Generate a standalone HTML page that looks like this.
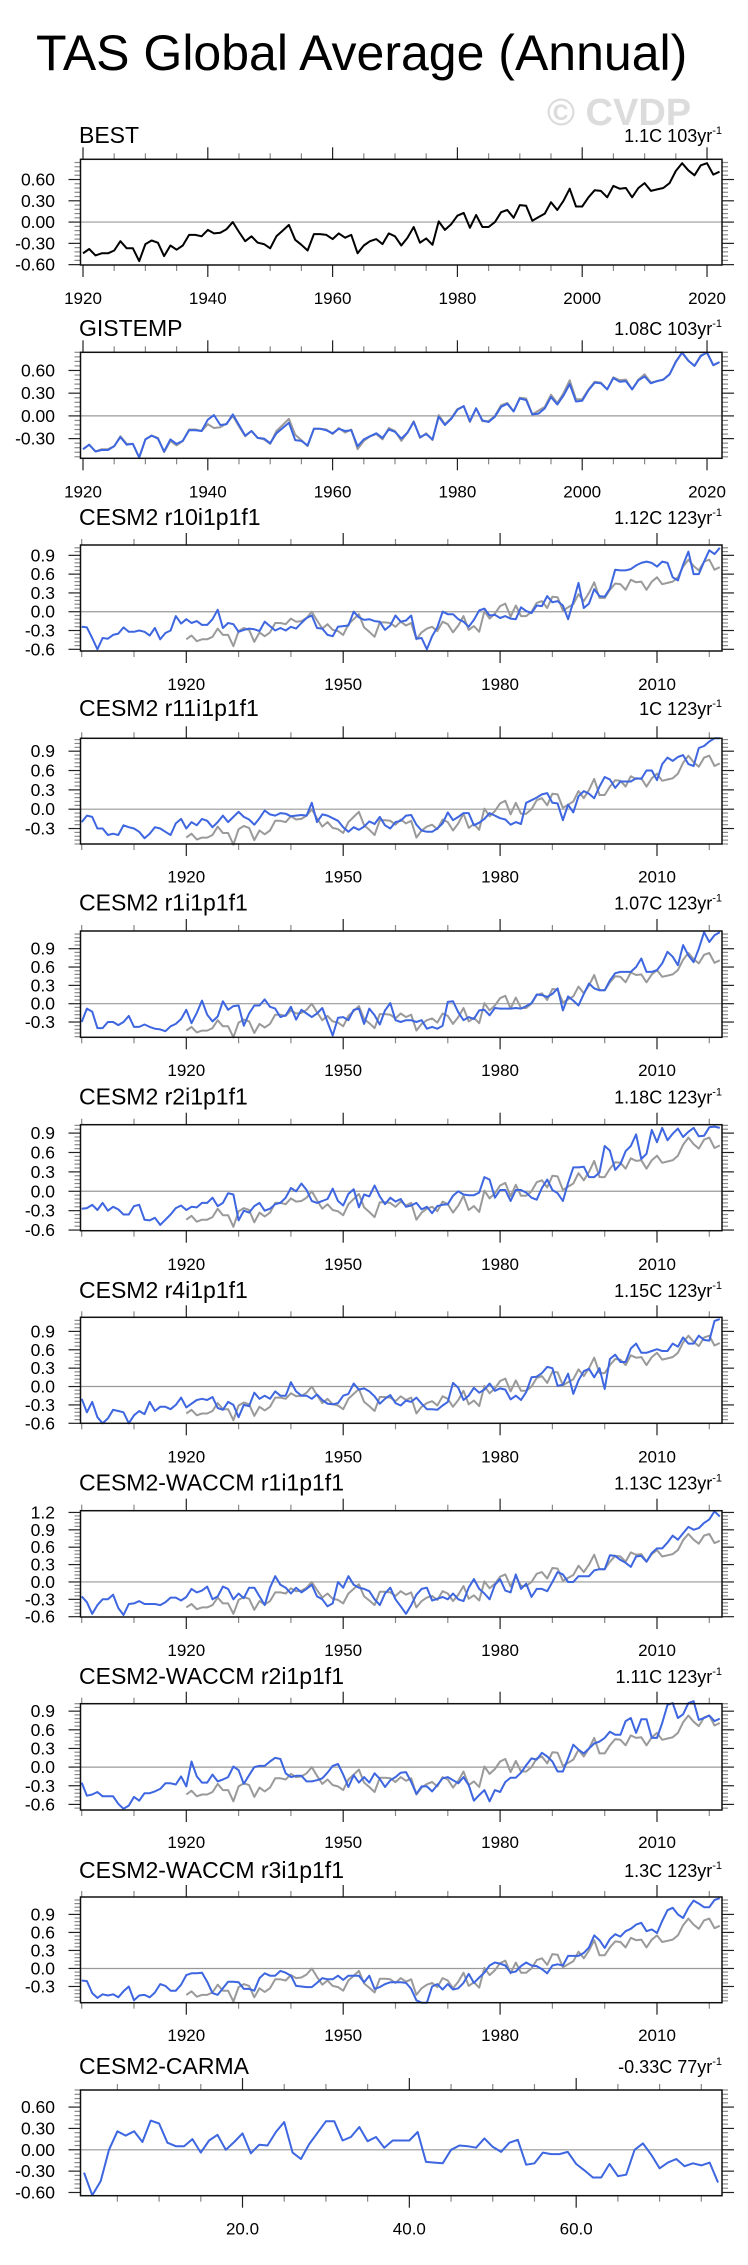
<!DOCTYPE html>
<html><head><meta charset="utf-8"><title>TAS Global Average (Annual)</title>
<style>
html,body{margin:0;padding:0;background:#fff;}
svg{display:block;font-family:"Liberation Sans",Arial,sans-serif;}
</style></head>
<body>
<svg id="chart" width="748" height="2265" viewBox="0 0 748 2265" xmlns="http://www.w3.org/2000/svg">
<rect x="0" y="0" width="748" height="2265" fill="#fff"/>
<text x="36" y="70" font-size="50" fill="#000">TAS Global Average (Annual)</text>
<text x="547" y="125" font-size="38" font-weight="bold" fill="#dcdcdc">© CVDP</text>
</svg>
<script>
// ---------- data ----------
const bestValues = [
-0.44,-0.38,-0.47,-0.44,-0.44,-0.40,-0.27,-0.37,-0.37,-0.55,
-0.31,-0.26,-0.29,-0.48,-0.33,-0.39,-0.33,-0.18,-0.18,-0.20,
-0.11,-0.16,-0.15,-0.10,0.00,-0.14,-0.27,-0.20,-0.29,-0.31,
-0.37,-0.20,-0.12,-0.04,-0.25,-0.32,-0.40,-0.17,-0.17,-0.18,
-0.24,-0.16,-0.22,-0.18,-0.44,-0.33,-0.27,-0.24,-0.31,-0.16,
-0.20,-0.33,-0.22,-0.07,-0.29,-0.23,-0.32,0.01,-0.11,-0.03,
0.09,0.13,-0.08,0.10,-0.07,-0.07,0.00,0.14,0.17,0.06,
0.24,0.23,0.02,0.07,0.12,0.28,0.17,0.30,0.47,0.22,
0.22,0.35,0.45,0.44,0.35,0.51,0.47,0.48,0.35,0.48,
0.55,0.44,0.46,0.48,0.55,0.72,0.83,0.73,0.66,0.80,0.83,0.67,0.71];
const gistempValues = [
-0.44,-0.38,-0.47,-0.45,-0.45,-0.40,-0.28,-0.38,-0.37,-0.55,
-0.31,-0.26,-0.30,-0.47,-0.31,-0.37,-0.33,-0.19,-0.19,-0.20,
-0.05,0.01,-0.12,-0.11,0.02,-0.12,-0.26,-0.20,-0.29,-0.30,
-0.36,-0.23,-0.16,-0.09,-0.32,-0.33,-0.39,-0.17,-0.17,-0.19,
-0.23,-0.17,-0.20,-0.19,-0.40,-0.31,-0.27,-0.23,-0.29,-0.18,
-0.21,-0.30,-0.22,-0.08,-0.28,-0.24,-0.31,-0.01,-0.12,-0.04,
0.08,0.13,-0.07,0.10,-0.06,-0.08,-0.01,0.12,0.16,0.06,
0.23,0.21,0.02,0.03,0.10,0.25,0.15,0.27,0.42,0.19,
0.20,0.34,0.44,0.43,0.35,0.50,0.45,0.46,0.35,0.47,
0.52,0.43,0.46,0.48,0.55,0.71,0.84,0.73,0.66,0.79,0.84,0.67,0.71];
const cesm2R10 = [
-0.24,-0.25,-0.42,-0.60,-0.42,-0.43,-0.37,-0.35,-0.25,-0.32,
-0.32,-0.30,-0.32,-0.38,-0.26,-0.44,-0.34,-0.30,-0.07,-0.19,
-0.12,-0.18,-0.15,-0.21,-0.21,-0.12,0.03,-0.26,-0.18,-0.20,
-0.32,-0.29,-0.27,-0.28,-0.31,-0.16,-0.23,-0.30,-0.26,-0.30,
-0.24,-0.27,-0.18,-0.10,-0.06,-0.26,-0.27,-0.37,-0.39,-0.24,
-0.23,-0.22,0.00,-0.09,-0.13,-0.12,-0.15,-0.16,-0.29,-0.22,
-0.06,-0.16,-0.14,-0.06,-0.43,-0.42,-0.60,-0.39,-0.25,0.00,
-0.04,-0.04,-0.12,-0.16,-0.24,-0.13,0.02,0.05,-0.06,-0.05,
-0.10,-0.07,-0.11,-0.12,0.07,0.01,-0.02,0.10,0.09,0.25,
0.15,0.17,0.10,-0.12,0.16,0.46,0.06,0.13,0.36,0.25,
0.24,0.37,0.67,0.66,0.66,0.68,0.74,0.78,0.80,0.78,
0.72,0.80,0.78,0.55,0.50,0.75,0.96,0.60,0.60,0.80,0.98,0.92,1.02];
const cesm2R11 = [
-0.20,-0.10,-0.12,-0.30,-0.30,-0.40,-0.38,-0.40,-0.25,-0.28,
-0.30,-0.35,-0.45,-0.38,-0.28,-0.30,-0.35,-0.40,-0.22,-0.15,
-0.30,-0.20,-0.25,-0.15,-0.18,-0.28,-0.20,-0.10,-0.20,-0.12,
-0.04,-0.12,-0.16,-0.24,-0.14,-0.02,-0.08,-0.10,-0.06,-0.07,
-0.11,-0.10,-0.09,-0.10,0.10,-0.20,-0.08,-0.10,-0.14,-0.18,
-0.28,-0.35,-0.28,-0.32,-0.27,-0.19,-0.23,-0.12,-0.25,-0.30,
-0.20,-0.18,-0.10,-0.09,-0.24,-0.33,-0.35,-0.35,-0.30,-0.22,
-0.05,-0.17,-0.12,-0.06,-0.06,-0.25,-0.21,-0.15,-0.06,-0.10,
-0.14,-0.16,-0.24,-0.20,-0.23,0.10,0.14,0.18,0.23,0.25,
0.10,0.09,-0.17,0.07,-0.05,0.20,0.28,0.24,0.17,0.35,
0.50,0.46,0.33,0.43,0.43,0.43,0.48,0.47,0.60,0.60,
0.45,0.70,0.80,0.75,0.81,0.84,0.70,0.67,0.95,0.98,1.05,1.10,1.10];
const cesm2R1 = [
-0.30,-0.08,-0.13,-0.40,-0.40,-0.30,-0.30,-0.35,-0.30,-0.20,
-0.38,-0.38,-0.34,-0.38,-0.41,-0.42,-0.45,-0.37,-0.33,-0.25,
-0.10,-0.32,-0.15,0.05,-0.18,-0.29,-0.21,0.04,-0.10,-0.04,
-0.03,-0.36,-0.16,-0.03,-0.03,0.07,-0.05,-0.08,-0.22,-0.19,
-0.05,-0.26,-0.10,-0.16,-0.22,-0.16,-0.07,-0.30,-0.52,-0.23,
-0.22,-0.27,-0.10,-0.08,-0.33,-0.08,-0.19,-0.34,-0.11,0.01,
-0.27,-0.30,-0.27,-0.27,-0.30,-0.27,-0.41,-0.38,-0.41,-0.36,
0.03,0.04,-0.14,-0.27,-0.22,-0.25,-0.11,-0.10,-0.19,-0.07,
-0.08,-0.08,-0.08,-0.07,-0.08,-0.04,0.01,0.15,0.14,0.11,
0.16,0.25,-0.11,0.12,0.05,-0.03,0.16,0.33,0.25,0.22,
0.22,0.38,0.50,0.52,0.52,0.52,0.60,0.74,0.52,0.52,
0.55,0.66,0.85,0.77,0.63,0.96,0.79,0.68,0.90,1.17,1.01,1.12,1.17];
const cesm2R2 = [
-0.27,-0.26,-0.21,-0.29,-0.18,-0.30,-0.24,-0.28,-0.36,-0.36,
-0.23,-0.21,-0.44,-0.45,-0.41,-0.52,-0.44,-0.36,-0.26,-0.22,
-0.29,-0.24,-0.25,-0.18,-0.18,-0.10,-0.23,-0.18,-0.03,-0.05,
-0.45,-0.30,-0.33,-0.23,-0.18,-0.30,-0.27,-0.20,-0.18,-0.10,
0.05,0.00,0.12,0.02,-0.15,-0.18,-0.15,-0.12,0.04,-0.15,
-0.22,-0.04,0.03,-0.25,-0.05,-0.08,0.09,-0.08,-0.20,-0.10,
-0.16,-0.12,-0.24,-0.22,-0.18,-0.28,-0.24,-0.34,-0.23,-0.21,
-0.20,-0.07,0.00,-0.05,-0.06,-0.06,-0.02,0.22,0.18,-0.10,
0.02,0.02,-0.15,0.02,0.02,-0.02,-0.10,-0.13,0.05,0.18,
0.02,-0.03,-0.15,0.13,0.37,0.37,0.38,0.22,0.22,0.29,
0.70,0.63,0.33,0.42,0.62,0.70,0.88,0.50,0.58,0.95,
0.76,0.98,0.79,0.89,0.97,0.84,0.92,0.98,0.85,0.86,0.99,1.00,0.98];
const cesm2R4 = [
-0.20,-0.42,-0.25,-0.50,-0.60,-0.52,-0.38,-0.40,-0.42,-0.60,
-0.47,-0.40,-0.45,-0.25,-0.40,-0.33,-0.33,-0.37,-0.30,-0.18,
-0.34,-0.28,-0.22,-0.20,-0.22,-0.17,-0.35,-0.38,-0.25,-0.30,
-0.50,-0.30,-0.32,-0.10,-0.20,-0.15,-0.20,-0.08,-0.15,-0.15,
0.07,-0.08,-0.15,-0.15,-0.20,-0.13,-0.22,-0.28,-0.29,-0.27,
-0.15,-0.12,0.05,-0.05,-0.03,-0.08,-0.16,-0.28,-0.20,-0.14,
-0.27,-0.31,-0.23,-0.25,-0.18,-0.28,-0.37,-0.37,-0.38,-0.31,
-0.25,0.06,-0.02,-0.22,-0.15,-0.02,-0.10,-0.05,0.05,-0.07,
-0.03,-0.05,-0.21,-0.15,-0.22,-0.09,0.15,0.16,0.22,0.32,
0.30,0.01,0.03,0.21,-0.12,0.10,0.25,0.29,0.15,0.30,
-0.04,0.45,0.52,0.40,0.40,0.62,0.70,0.55,0.55,0.58,
0.61,0.58,0.58,0.70,0.65,0.80,0.70,0.70,0.83,0.76,0.75,1.07,1.10];
const waccmR1 = [
-0.25,-0.35,-0.55,-0.40,-0.30,-0.30,-0.22,-0.45,-0.57,-0.38,
-0.37,-0.33,-0.38,-0.38,-0.38,-0.40,-0.35,-0.27,-0.27,-0.32,
-0.26,-0.12,-0.18,-0.15,-0.08,-0.30,-0.25,-0.08,-0.12,-0.30,
-0.20,-0.28,-0.10,-0.10,-0.25,-0.40,-0.10,0.10,-0.05,-0.10,
-0.20,-0.10,-0.18,-0.12,-0.05,-0.25,-0.30,-0.42,-0.37,0.00,
-0.10,0.10,-0.05,-0.10,-0.12,-0.16,-0.30,-0.40,-0.20,-0.10,
-0.30,-0.42,-0.55,-0.40,-0.22,-0.12,-0.10,-0.32,-0.29,-0.26,
-0.30,-0.20,-0.30,-0.33,-0.10,0.05,-0.12,-0.20,-0.30,-0.05,
0.05,-0.15,-0.18,0.13,-0.12,-0.03,-0.26,-0.12,-0.12,-0.16,
0.00,0.17,0.13,0.00,0.00,0.10,0.10,0.10,0.20,0.22,
0.22,0.46,0.45,0.38,0.33,0.26,0.44,0.45,0.35,0.50,
0.58,0.58,0.68,0.80,0.73,0.84,0.95,0.90,0.93,1.02,1.08,1.22,1.13];
const waccmR2 = [
-0.25,-0.46,-0.44,-0.40,-0.47,-0.47,-0.47,-0.59,-0.67,-0.62,
-0.48,-0.54,-0.42,-0.42,-0.39,-0.35,-0.26,-0.26,-0.28,-0.15,
-0.31,0.09,-0.15,-0.25,-0.25,-0.12,-0.23,-0.20,-0.16,0.01,
-0.05,-0.27,-0.13,0.00,0.02,0.02,0.09,0.15,0.13,-0.10,
-0.16,-0.14,-0.14,-0.23,-0.23,-0.21,-0.18,-0.09,0.02,0.05,
-0.12,-0.32,-0.13,-0.25,-0.16,-0.25,-0.10,-0.19,-0.32,-0.21,
-0.16,-0.09,-0.08,-0.24,-0.43,-0.31,-0.31,-0.39,-0.29,-0.18,
-0.16,-0.21,-0.26,-0.16,-0.29,-0.54,-0.45,-0.37,-0.55,-0.37,
-0.40,-0.24,-0.17,-0.17,-0.09,0.03,0.14,0.12,0.23,0.17,
0.09,-0.07,-0.07,0.14,0.36,0.28,0.22,0.30,0.38,0.41,
0.47,0.57,0.52,0.52,0.74,0.79,0.55,0.77,0.77,0.47,
0.47,0.71,1.00,1.03,0.79,0.85,1.03,1.06,0.76,0.79,0.83,0.74,0.78];
const waccmR3 = [
-0.20,-0.21,-0.41,-0.49,-0.43,-0.45,-0.43,-0.48,-0.38,-0.30,
-0.53,-0.45,-0.44,-0.48,-0.40,-0.26,-0.29,-0.37,-0.37,-0.27,
-0.11,-0.08,-0.08,-0.07,-0.22,-0.41,-0.44,-0.33,-0.22,-0.22,
-0.23,-0.34,-0.34,-0.37,-0.16,-0.08,-0.12,-0.12,-0.04,-0.07,
-0.12,-0.29,-0.30,-0.31,-0.31,-0.24,-0.16,-0.18,-0.18,-0.12,
-0.19,-0.12,-0.12,-0.12,-0.23,-0.12,-0.34,-0.31,-0.26,-0.23,
-0.23,-0.23,-0.24,-0.34,-0.53,-0.57,-0.57,-0.30,-0.26,-0.35,
-0.26,-0.35,-0.33,-0.24,-0.09,-0.24,-0.15,-0.07,0.05,0.10,
0.08,0.05,-0.07,-0.05,0.04,0.10,0.05,0.04,-0.01,-0.08,
0.05,0.07,0.05,0.21,0.21,0.21,0.26,0.35,0.55,0.47,
0.34,0.49,0.57,0.53,0.62,0.66,0.73,0.76,0.62,0.65,
0.59,0.79,0.97,1.01,0.90,0.84,1.01,1.13,1.08,1.02,1.02,1.14,1.17];
const carmaValues = [
-0.32,-0.64,-0.44,0.00,0.26,0.20,0.26,0.11,0.41,0.37,
0.10,0.05,0.05,0.15,-0.04,0.13,0.21,0.00,0.11,0.23,
-0.05,0.07,0.06,0.25,0.39,-0.04,-0.13,0.08,0.24,0.40,
0.40,0.13,0.18,0.32,0.12,0.18,0.03,0.13,0.13,0.13,
0.25,-0.17,-0.18,-0.19,0.00,0.06,0.05,0.03,0.16,0.04,
-0.03,0.10,0.14,-0.21,-0.19,-0.04,-0.06,-0.06,-0.03,-0.20,
-0.29,-0.39,-0.39,-0.20,-0.37,-0.35,0.00,0.09,-0.07,-0.26,
-0.18,-0.13,-0.23,-0.19,-0.22,-0.18,-0.46];
const obsStartYear = 1920;
const modelStartYear = 1900;
const yearTickLabelsObs = [1920,1940,1960,1980,2000,2020];
const yearTickLabelsModel = [1920,1950,1980,2010];
const carmaTickLabels = [20,40,60];

// ---------- drawing ----------
const NS = 'http://www.w3.org/2000/svg';
const svg = document.getElementById('chart');
function mk(tag, attrs, parent){
  const e = document.createElementNS(NS, tag);
  for (const k in attrs) e.setAttribute(k, attrs[k]);
  (parent||svg).appendChild(e);
  return e;
}
const BLUE = '#3d66e0', GREY = '#9a9a9a';
const X0 = 80.5, X1 = 722;

function drawPanel(p){
  const g = mk('g', {});
  
  
  const sx = v => X0 + (v - p.xmin) / (p.xmax - p.xmin) * (X1 - X0);
  const sy = v => p.y1 - (v - p.ymin) / (p.ymax - p.ymin) * (p.y1 - p.y0);

  const t = mk('text', {x: 79, y: p.ty + 8, 'font-size': 23, fill: '#000'}, g);
  t.textContent = p.title;
  
  
  const rt = mk('text', {x: X1, y: p.ty + 7, 'font-size': 18, fill: '#000', 'text-anchor': 'end'}, g);
  
  
  const t1 = mk('tspan', {}, rt); t1.textContent = p.trend + 'yr';
  const t2 = mk('tspan', {dy: -8, 'font-size': 11}, rt); t2.textContent = '-1';

  const zl = mk('line', {x1: X0, x2: X1, y1: sy(0), y2: sy(0), stroke: '#999', 'stroke-width': 1.2}, g);
  
  

  const ta = mk('g', {}, g);
  
  
  const k0 = Math.ceil(p.ymin / 0.06 - 1e-6), k1 = Math.floor(p.ymax / 0.06 + 1e-6);
  for (let k = k0; k <= k1; k++){
    const v = k * 0.06, y = sy(v), maj = (k % 5 === 0);
    const L = maj ? 12 : 6;
    mk('line', {x1: X0 - L, x2: X0, y1: y, y2: y, stroke: maj ? '#222' : '#888', 'stroke-width': 1.2}, ta);
    mk('line', {x1: X1, x2: X1 + L, y1: y, y2: y, stroke: maj ? '#222' : '#888', 'stroke-width': 1.2}, ta);
    if (maj){
      const lb = mk('text', {x: 55, y: y + 6, 'font-size': 17.5, 'text-anchor': 'end', fill: '#000'}, ta);
      
      
      lb.textContent = (Math.abs(v) < 1e-9 ? 0 : v).toFixed(p.dec);
    }
  }
  const xa = mk('g', {}, g);
  
  
  for (let v = Math.ceil(p.xmin / p.minor) * p.minor; v <= p.xmax; v += p.minor){
    const x = sx(v), maj = p.labels.indexOf(v) >= 0;
    const L = maj ? 12 : 6;
    mk('line', {x1: x, x2: x, y1: p.y0 - L, y2: p.y0, stroke: maj ? '#222' : '#888', 'stroke-width': 1.2}, xa);
    mk('line', {x1: x, x2: x, y1: p.y1, y2: p.y1 + L, stroke: maj ? '#222' : '#888', 'stroke-width': 1.2}, xa);
  }
  p.labels.forEach(v => {
    const lb = mk('text', {x: sx(v), y: p.ly + 6, 'font-size': 17, 'text-anchor': 'middle', fill: '#000'}, xa);
    
    
    lb.textContent = p.fmt ? p.fmt(v) : String(v);
  });

  p.series.forEach(s => {
    const pts = s.values.map((v, i) => sx(s.start + i).toFixed(1) + ',' + sy(v).toFixed(1)).join(' ');
    const pl = mk('polyline', {points: pts, fill: 'none', stroke: s.color, 'stroke-width': 2, 'stroke-linejoin': 'round'}, g);
    
    
  });

  const bx = mk('rect', {x: X0, y: p.y0, width: X1 - X0, height: p.y1 - p.y0, fill: 'none', stroke: '#111', 'stroke-width': 1.5}, g);
  
  
}

const obsAxis = {xmin: 1919.6, xmax: 2022.4, minor: 5, labels: yearTickLabelsObs};
const modAxis = {xmin: 1899.77, xmax: 2022.43, minor: 10, labels: yearTickLabelsModel};
function model(key, title, trend, vals, y0, y1, ymin, ymax, ty, ly){
  return Object.assign({key, title, trend, y0, y1, ymin, ymax, ty, ly, dec: 1,
    series: [{name: 'observed-line', values: bestValues, start: obsStartYear, color: GREY},
             {name: 'model-line', values: vals, start: modelStartYear, color: BLUE}]}, modAxis);
}
const panels = [
  Object.assign({key: 'best', title: 'BEST', trend: '1.1C 103', y0: 159.3, y1: 265, ymin: -0.605, ymax: 0.885, ty: 135, ly: 298, dec: 2,
    series: [{name: 'best-line', values: bestValues, start: obsStartYear, color: '#000'}]}, obsAxis),
  Object.assign({key: 'gistemp', title: 'GISTEMP', trend: '1.08C 103', y0: 352.3, y1: 458.3, ymin: -0.56, ymax: 0.84, ty: 328, ly: 491.7, dec: 2,
    series: [{name: 'observed-line', values: bestValues, start: obsStartYear, color: GREY},
             {name: 'gistemp-line', values: gistempValues, start: obsStartYear, color: BLUE}]}, obsAxis),
  model('cesm2-r10', 'CESM2 r10i1p1f1', '1.12C 123', cesm2R10, 545, 651, -0.627, 1.065, 517, 684),
  model('cesm2-r11', 'CESM2 r11i1p1f1', '1C 123', cesm2R11, 738.3, 844, -0.54, 1.10, 708, 876.7),
  model('cesm2-r1', 'CESM2 r1i1p1f1', '1.07C 123', cesm2R1, 931, 1037.3, -0.55, 1.19, 902.7, 1070),
  model('cesm2-r2', 'CESM2 r2i1p1f1', '1.18C 123', cesm2R2, 1124.7, 1230.7, -0.61, 1.03, 1096.7, 1264),
  model('cesm2-r4', 'CESM2 r4i1p1f1', '1.15C 123', cesm2R4, 1317.3, 1423.3, -0.60, 1.13, 1290, 1456.7),
  model('waccm-r1', 'CESM2-WACCM r1i1p1f1', '1.13C 123', waccmR1, 1510.7, 1617, -0.605, 1.23, 1482.7, 1650),
  model('waccm-r2', 'CESM2-WACCM r2i1p1f1', '1.11C 123', waccmR2, 1703.7, 1810, -0.69, 1.02, 1676, 1842),
  model('waccm-r3', 'CESM2-WACCM r3i1p1f1', '1.3C 123', waccmR3, 1897, 2002.7, -0.57, 1.19, 1870, 2035),
  {key: 'carma', title: 'CESM2-CARMA', trend: '-0.33C 77', y0: 2090, y1: 2195.7, ymin: -0.645, ymax: 0.84, ty: 2066, ly: 2228.3, dec: 2,
    xmin: 0.58, xmax: 77.48, minor: 5, labels: carmaTickLabels, fmt: v => v.toFixed(1),
    series: [{name: 'carma-line', values: carmaValues, start: 1, color: BLUE}]}
];
panels.forEach(drawPanel);
</script>
</body></html>
